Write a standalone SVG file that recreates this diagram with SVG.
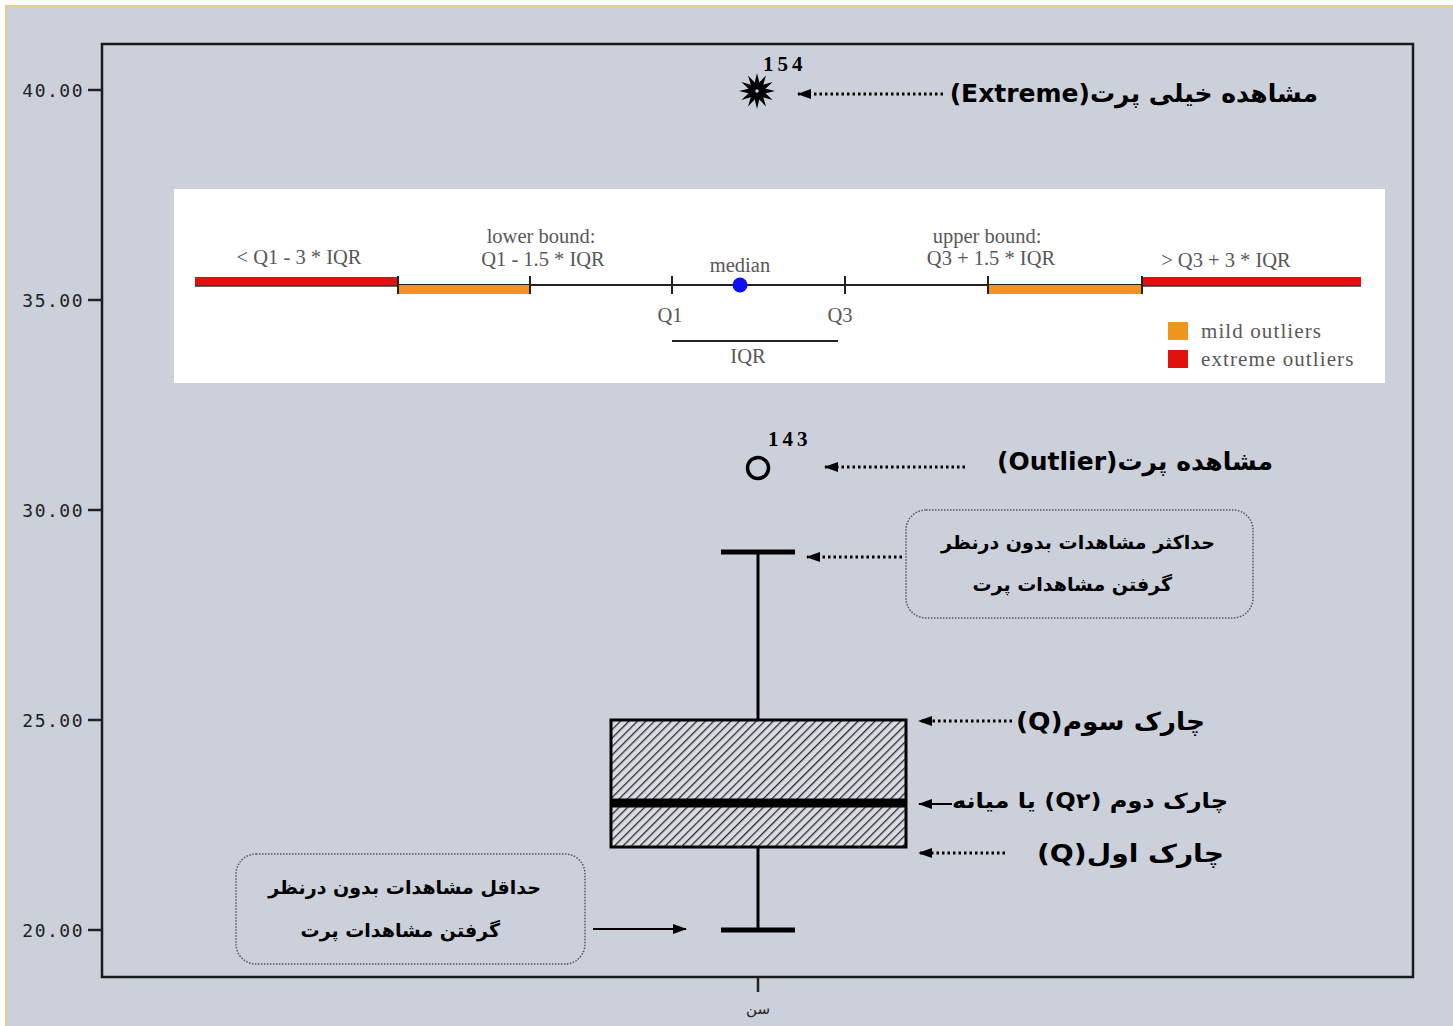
<svg xmlns="http://www.w3.org/2000/svg" width="1453" height="1026" viewBox="0 0 1453 1026">
  <style>
    .axis { stroke: #1a1a1a; stroke-width: 2.5; fill: none; }
    .tick { stroke: #222; stroke-width: 2.5; }
    .ylab { font-family: "DejaVu Sans Mono", monospace; font-size: 18px; fill: #222; text-anchor: end; letter-spacing: 1.5px; }
    .inset { font-family: "Liberation Serif", serif; font-size: 20.5px; fill: #585858; text-anchor: middle; }
    .legend { font-family: "Liberation Serif", serif; font-size: 21px; fill: #585858; letter-spacing: 1.1px; }
    .fa { font-family: "DejaVu Sans", "Noto Sans", sans-serif; font-weight: bold; fill: #000; direction: rtl; }
    .big { font-size: 25px; }
    .mid { font-size: 19px; }
    .sml { font-size: 21px; }
    .num { font-family: "Liberation Serif", serif; font-weight: bold; font-size: 21px; letter-spacing: 4px; fill: #000; }
    .dots { stroke: #000; stroke-width: 3; stroke-dasharray: 2.5 3; fill: none; }
    .solid { stroke: #000; stroke-width: 2; fill: none; }
    .whisk { stroke: #000; stroke-width: 3; fill: none; }
    .cap { stroke: #000; stroke-width: 5; }
    .note { fill: none; stroke: #555; stroke-width: 1.5; stroke-dasharray: 1.5 1.5; }
    .tline { stroke: #222; stroke-width: 2; }
  </style>
  <defs>
    <marker id="ah" markerUnits="userSpaceOnUse" markerWidth="14" markerHeight="10" refX="13" refY="5" orient="auto">
      <path d="M0,0 L14,5 L0,10 z" fill="#000"/>
    </marker>
    <pattern id="hatch" patternUnits="userSpaceOnUse" width="6" height="6" patternTransform="rotate(45)">
      <rect width="6" height="6" fill="#d9dce3"/>
      <line x1="0" y1="0" x2="0" y2="6" stroke="#2a2a2a" stroke-width="2.6"/>
    </pattern>
  </defs>

  <!-- page background -->
  <rect x="0" y="0" width="1453" height="1026" fill="#ffffff"/>
  <rect x="6" y="6" width="1450" height="1024" fill="#cbd0da" stroke="#e3cf86" stroke-width="2"/>

  <!-- plot frame and y axis -->
  <g id="axes">
    <rect class="axis" x="102" y="44" width="1311" height="933"/>
    <line class="tick" x1="88" y1="90" x2="102" y2="90"/>
    <line class="tick" x1="88" y1="300" x2="102" y2="300"/>
    <line class="tick" x1="88" y1="510" x2="102" y2="510"/>
    <line class="tick" x1="88" y1="720" x2="102" y2="720"/>
    <line class="tick" x1="88" y1="930" x2="102" y2="930"/>
    <text class="ylab" x="84" y="97">40.00</text>
    <text class="ylab" x="84" y="307">35.00</text>
    <text class="ylab" x="84" y="517">30.00</text>
    <text class="ylab" x="84" y="727">25.00</text>
    <text class="ylab" x="84" y="937">20.00</text>
    <line class="tick" x1="758" y1="977" x2="758" y2="992"/>
    <text x="758" y="1014" font-family="DejaVu Sans, sans-serif" font-size="15" fill="#222" text-anchor="middle">سن</text>
  </g>

  <!-- outlier rule inset -->
  <g id="inset">
    <rect x="174" y="189" width="1211" height="194" fill="#ffffff"/>
    <line x1="196" y1="285" x2="1360" y2="285" stroke="#222" stroke-width="2"/>
    <rect x="195" y="277" width="203" height="9" fill="#e31010"/>
    <rect x="398" y="285" width="132" height="9" fill="#f0961e"/>
    <rect x="988" y="285" width="154" height="9" fill="#f0961e"/>
    <rect x="1142" y="277" width="219" height="9" fill="#e31010"/>
    <line x1="195" y1="286" x2="398" y2="286" stroke="#333" stroke-width="1.5"/>
    <line x1="1142" y1="286" x2="1361" y2="286" stroke="#333" stroke-width="1.5"/>
    <line class="tline" x1="398" y1="276" x2="398" y2="294"/>
    <line class="tline" x1="530" y1="276" x2="530" y2="294"/>
    <line class="tline" x1="672" y1="276" x2="672" y2="294"/>
    <line class="tline" x1="845" y1="276" x2="845" y2="294"/>
    <line class="tline" x1="988" y1="276" x2="988" y2="294"/>
    <line class="tline" x1="1142" y1="276" x2="1142" y2="294"/>
    <circle cx="740" cy="285" r="7.5" fill="#1010ee"/>
    <line x1="672" y1="341" x2="838" y2="341" stroke="#222" stroke-width="2"/>
    <text class="inset" x="299" y="264">&lt; Q1 - 3 * IQR</text>
    <text class="inset" x="541" y="243">lower bound:</text>
    <text class="inset" x="543" y="266">Q1 - 1.5 * IQR</text>
    <text class="inset" x="740" y="272">median</text>
    <text class="inset" x="670" y="322">Q1</text>
    <text class="inset" x="840" y="322">Q3</text>
    <text class="inset" x="748" y="363">IQR</text>
    <text class="inset" x="987" y="243">upper bound:</text>
    <text class="inset" x="991" y="265">Q3 + 1.5 * IQR</text>
    <text class="inset" x="1226" y="267">&gt; Q3 + 3 * IQR</text>
    <rect x="1168" y="322" width="20" height="18" fill="#f0961e"/>
    <rect x="1168" y="350" width="20" height="18" fill="#e31010"/>
    <text class="legend" x="1201" y="338">mild outliers</text>
    <text class="legend" x="1201" y="366">extreme outliers</text>
  </g>

  <!-- extreme point 154 -->
  <g id="extreme">
    <g transform="translate(757,91)">
      <polygon points="0,-18 3.5,-3.5 18,0 3.5,3.5 0,18 -3.5,3.5 -18,0 -3.5,-3.5" fill="#000"/>
      <polygon points="0,-18 3.5,-3.5 18,0 3.5,3.5 0,18 -3.5,3.5 -18,0 -3.5,-3.5" fill="#000" transform="rotate(30)"/>
      <polygon points="0,-18 3.5,-3.5 18,0 3.5,3.5 0,18 -3.5,3.5 -18,0 -3.5,-3.5" fill="#000" transform="rotate(60)"/>
      <circle r="6.5" fill="#000"/>
      <circle r="1.8" fill="#cbd0da"/>
    </g>
    <text class="num" x="763" y="71">154</text>
  </g>
  <g id="extreme-label">
    <text class="fa big" x="1318" y="102">مشاهده خیلی پرت(Extreme)</text>
  </g>

  <!-- outlier point 143 -->
  <g id="outlier">
    <circle cx="758" cy="468" r="10.5" fill="none" stroke="#000" stroke-width="3.5"/>
    <text class="num" x="768" y="446">143</text>
  </g>
  <g id="outlier-label">
    <text class="fa big" x="1273" y="470">مشاهده پرت(Outlier)</text>
  </g>

  <!-- box and whiskers -->
  <g id="boxplot">
    <line class="whisk" x1="758" y1="552" x2="758" y2="720"/>
    <line class="whisk" x1="758" y1="847" x2="758" y2="930"/>
    <line class="cap" x1="721" y1="552" x2="795" y2="552"/>
    <line class="cap" x1="721" y1="930" x2="795" y2="930"/>
    <rect x="611" y="720" width="295" height="127" fill="url(#hatch)" stroke="#000" stroke-width="3"/>
    <line x1="611" y1="803" x2="906" y2="803" stroke="#000" stroke-width="9"/>
  </g>

  <!-- note boxes -->
  <g id="max-note">
    <rect class="note" x="906" y="510" width="347" height="108" rx="20"/>
    <text class="fa mid" x="1215" y="549">حداکثر مشاهدات بدون درنظر</text>
    <text class="fa mid" x="1172" y="591">گرفتن مشاهدات پرت</text>
  </g>
  <g id="min-note">
    <rect class="note" x="236" y="854" width="349" height="110" rx="20"/>
    <text class="fa mid" x="541" y="894">حداقل مشاهدات بدون درنظر</text>
    <text class="fa mid" x="500" y="937">گرفتن مشاهدات پرت</text>
  </g>

  <!-- quartile labels -->
  <g id="q3-label">
    <text class="fa big" x="1205" y="730" textLength="189" lengthAdjust="spacingAndGlyphs">چارک سوم(Q)</text>
  </g>
  <g id="q2-label">
    <text class="fa sml" x="1228" y="808" textLength="276" lengthAdjust="spacingAndGlyphs">چارک دوم (Q۲) یا میانه</text>
  </g>
  <g id="q1-label">
    <text class="fa big" x="1224" y="862" textLength="187" lengthAdjust="spacingAndGlyphs">چارک اول(Q)</text>
  </g>

  <!-- connectors -->
  <g id="connectors">
    <line class="dots" x1="943" y1="94" x2="798" y2="94" marker-end="url(#ah)"/>
    <line class="dots" x1="965" y1="467" x2="825" y2="467" marker-end="url(#ah)"/>
    <line class="dots" x1="902" y1="557" x2="807" y2="557" marker-end="url(#ah)"/>
    <line class="dots" x1="1012" y1="721" x2="919" y2="721" marker-end="url(#ah)"/>
    <line class="solid" x1="952" y1="804" x2="919" y2="804" marker-end="url(#ah)"/>
    <line class="dots" x1="1005" y1="853" x2="919" y2="853" marker-end="url(#ah)"/>
    <line class="solid" x1="593" y1="929" x2="686" y2="929" marker-end="url(#ah)"/>
  </g>
</svg>
